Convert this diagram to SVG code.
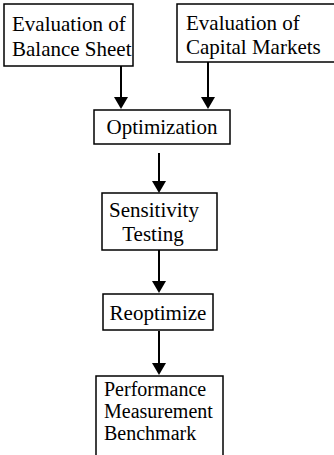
<svg xmlns="http://www.w3.org/2000/svg" width="334" height="455" viewBox="0 0 334 455">
<style>
.box{fill:#fff;stroke:#000;stroke-width:1.5}
.t{font-family:'Liberation Serif',serif;font-size:21px;fill:#000}
.s{font-size:20px}
.c{stroke:#000;stroke-width:2;fill:none}
.ah{fill:#000}
</style>
<rect width="334" height="455" fill="#fff"/>
<g id="connectors">
<line class="c" x1="121" y1="66" x2="121" y2="100"/>
<line class="c" x1="208" y1="62" x2="208" y2="100"/>
<line class="c" x1="159" y1="153" x2="159" y2="184"/>
<line class="c" x1="159" y1="250" x2="159" y2="284"/>
<line class="c" x1="159" y1="331" x2="159" y2="366"/>
<path class="ah" d="M114,97 L128,97 L121,109 Z"/>
<path class="ah" d="M201,97 L215,97 L208,109 Z"/>
<path class="ah" d="M152,181 L166,181 L159,193 Z"/>
<path class="ah" d="M152,281 L166,281 L159,293 Z"/>
<path class="ah" d="M152,363 L166,363 L159,375 Z"/>
</g>
<g id="n1">
<rect class="box" x="4" y="4" width="129" height="62"/>
<text class="t" x="12" y="31">Evaluation of</text>
<text class="t" x="12" y="56">Balance Sheet</text>
</g>
<g id="n2">
<rect class="box" x="177" y="4" width="160" height="58"/>
<text class="t" x="186" y="30">Evaluation of</text>
<text class="t" x="186" y="54">Capital Markets</text>
</g>
<g id="n3">
<rect class="box" x="94" y="110" width="136" height="34"/>
<text class="t" x="162" y="134" text-anchor="middle">Optimization</text>
</g>
<g id="n4">
<rect class="box" x="102" y="193" width="115" height="57"/>
<text class="t" x="154" y="217" text-anchor="middle">Sensitivity</text>
<text class="t" x="153" y="241" text-anchor="middle">Testing</text>
</g>
<g id="n5">
<rect class="box" x="103" y="294" width="110" height="36"/>
<text class="t" x="158" y="320" text-anchor="middle">Reoptimize</text>
</g>
<g id="n6">
<rect class="box" x="96" y="376" width="127" height="80"/>
<text class="t s" x="104" y="396">Performance</text>
<text class="t s" x="104" y="418">Measurement</text>
<text class="t s" x="104" y="440">Benchmark</text>
</g>
</svg>
